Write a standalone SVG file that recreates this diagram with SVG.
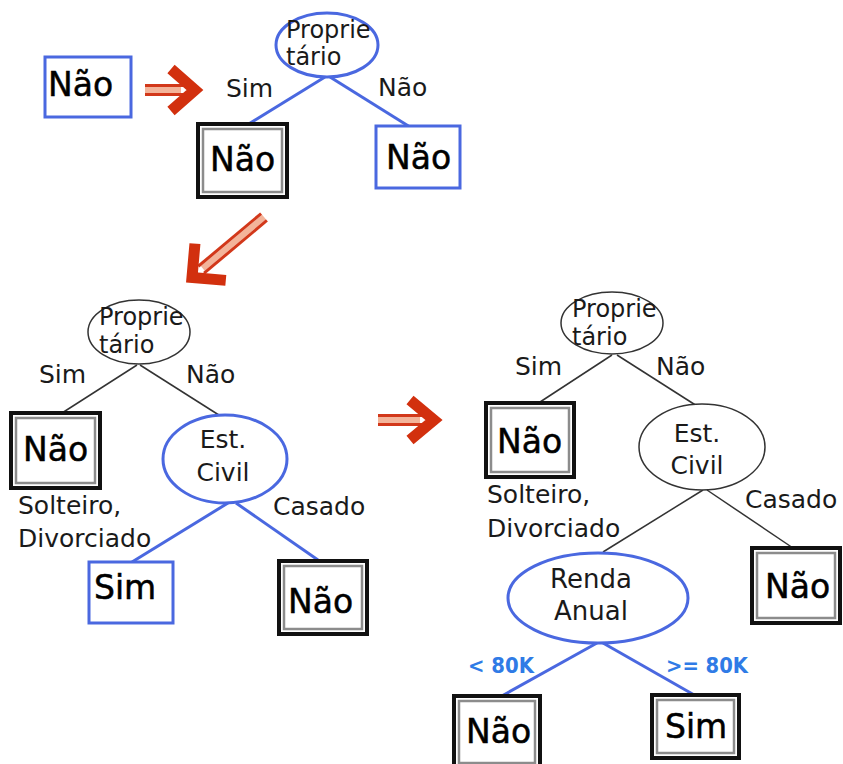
<svg xmlns="http://www.w3.org/2000/svg" width="843" height="764" viewBox="0 0 843 764">
  <style>
    text { font-family: "DejaVu Sans", "Liberation Sans", sans-serif; fill: #1a1a1a; }
    .lbl { font-size: 25px; }
    .node { font-size: 24px; }
    .big { font-size: 33px; fill: #000; stroke: #000; stroke-width: 0.5; }
    .cond { font-size: 22px; font-weight: bold; fill: #2f7be6; }
    .blue { fill: #fff; stroke: #4a68e0; stroke-width: 3; }
    .plain { fill: #fff; stroke: #333; stroke-width: 1.5; }
    .outer { fill: #fff; stroke: #111; stroke-width: 4; }
    .inner { fill: none; stroke: #8c8c8c; stroke-width: 2.5; }
    .eb { stroke: #4a68e0; stroke-width: 3; }
    .ek { stroke: #333; stroke-width: 1.5; }
    .shaft { stroke: #d2381a; stroke-width: 3; }
    .band { stroke: #f3b49a; stroke-width: 6; }
    .head { fill: none; stroke: #d2300e; stroke-width: 11; stroke-linejoin: miter; }
  </style>

  <!-- connectors -->
  <g id="connectors">
    <line class="eb" x1="325" y1="77" x2="247" y2="125"/>
    <line class="eb" x1="330" y1="77" x2="410" y2="127"/>

    <line class="ek" x1="137" y1="365" x2="62" y2="413"/>
    <line class="ek" x1="140" y1="365" x2="222" y2="417"/>
    <line class="eb" x1="228" y1="503" x2="132" y2="562"/>
    <line class="eb" x1="236" y1="503" x2="318" y2="560"/>

    <line class="ek" x1="612" y1="355" x2="537" y2="404"/>
    <line class="ek" x1="617" y1="355" x2="697" y2="406"/>
    <line class="ek" x1="703" y1="490" x2="603" y2="552"/>
    <line class="ek" x1="707" y1="490" x2="793" y2="548"/>
    <line class="eb" x1="597" y1="643" x2="500" y2="697"/>
    <line class="eb" x1="603" y1="643" x2="696" y2="696"/>
  </g>

  <!-- step arrows -->
  <g id="arrow-1" transform="translate(145,90)">
    <line class="band" x1="0" y1="0" x2="36" y2="0"/>
    <line class="shaft" x1="0" y1="-4.5" x2="38" y2="-4.5"/>
    <line class="shaft" x1="0" y1="4.5" x2="38" y2="4.5"/>
    <polyline class="head" points="26,-21 50,0 26,21"/>
  </g>
  <g id="arrow-2" transform="translate(264,217) rotate(140)">
    <line class="band" x1="0" y1="0" x2="80" y2="0"/>
    <line class="shaft" x1="0" y1="-4.5" x2="82" y2="-4.5"/>
    <line class="shaft" x1="0" y1="4.5" x2="82" y2="4.5"/>
    <polyline class="head" points="70,-24 94,0 70,24"/>
  </g>
  <g id="arrow-3" transform="translate(378,420)">
    <line class="band" x1="0" y1="0" x2="42" y2="0"/>
    <line class="shaft" x1="0" y1="-4.5" x2="44" y2="-4.5"/>
    <line class="shaft" x1="0" y1="4.5" x2="44" y2="4.5"/>
    <polyline class="head" points="32,-20 56,0 32,20"/>
  </g>

  <!-- edge labels -->
  <g id="labels">
    <text class="lbl" x="226" y="97">Sim</text>
    <text class="lbl" x="378" y="96">Não</text>
    <text class="lbl" x="39" y="383">Sim</text>
    <text class="lbl" x="186" y="383">Não</text>
    <text class="lbl" x="18" y="514">Solteiro,</text>
    <text class="lbl" x="18" y="547">Divorciado</text>
    <text class="lbl" x="273" y="515">Casado</text>
    <text class="lbl" x="515" y="375">Sim</text>
    <text class="lbl" x="656" y="375">Não</text>
    <text class="lbl" x="487" y="503">Solteiro,</text>
    <text class="lbl" x="487" y="537">Divorciado</text>
    <text class="lbl" x="745" y="508">Casado</text>
    <text class="cond" x="468" y="673" textLength="66" lengthAdjust="spacingAndGlyphs">&lt; 80K</text>
    <text class="cond" x="666" y="673" textLength="82" lengthAdjust="spacingAndGlyphs">&gt;= 80K</text>
  </g>

  <!-- stage 1 -->
  <g id="n-start">
    <rect class="blue" x="45" y="57" width="86" height="60"/>
    <text class="big" x="48" y="96">Não</text>
  </g>
  <g id="n1-root">
    <ellipse class="blue" cx="327" cy="45" rx="51" ry="32"/>
    <text class="node" x="286" y="38">Proprie</text>
    <text class="node" x="286" y="65">tário</text>
  </g>
  <g id="n1-sim">
    <rect class="outer" x="198" y="124" width="89" height="73"/>
    <rect class="inner" x="203" y="129" width="79" height="63"/>
    <text class="big" x="210" y="171">Não</text>
  </g>
  <g id="n1-nao">
    <rect class="blue" x="376" y="126" width="84" height="62"/>
    <text class="big" x="386" y="169">Não</text>
  </g>

  <!-- stage 2 -->
  <g id="n2-root">
    <ellipse class="plain" cx="139" cy="332" rx="51" ry="32"/>
    <text class="node" x="99" y="325">Proprie</text>
    <text class="node" x="99" y="353">tário</text>
  </g>
  <g id="n2-sim">
    <rect class="outer" x="11" y="413" width="89" height="75"/>
    <rect class="inner" x="16" y="418" width="79" height="65"/>
    <text class="big" x="23" y="461">Não</text>
  </g>
  <g id="n2-civil">
    <ellipse class="blue" cx="225" cy="459" rx="62" ry="44"/>
    <text class="node" x="223" y="448" text-anchor="middle" style="font-size:25px">Est.</text>
    <text class="node" x="223" y="481" text-anchor="middle" style="font-size:25px">Civil</text>
  </g>
  <g id="n2-solteiro">
    <rect class="blue" x="89" y="562" width="84" height="61"/>
    <text class="big" x="94" y="599">Sim</text>
  </g>
  <g id="n2-casado">
    <rect class="outer" x="279" y="561" width="88" height="73"/>
    <rect class="inner" x="284" y="566" width="78" height="63"/>
    <text class="big" x="288" y="613">Não</text>
  </g>

  <!-- stage 3 -->
  <g id="n3-root">
    <ellipse class="plain" cx="612" cy="323" rx="51" ry="31"/>
    <text class="node" x="572" y="317">Proprie</text>
    <text class="node" x="572" y="345">tário</text>
  </g>
  <g id="n3-sim">
    <rect class="outer" x="486" y="403" width="88" height="74"/>
    <rect class="inner" x="491" y="408" width="78" height="64"/>
    <text class="big" x="497" y="453">Não</text>
  </g>
  <g id="n3-civil">
    <ellipse class="plain" cx="702" cy="447" rx="63" ry="43"/>
    <text class="node" x="697" y="442" text-anchor="middle" style="font-size:25px">Est.</text>
    <text class="node" x="697" y="474" text-anchor="middle" style="font-size:25px">Civil</text>
  </g>
  <g id="n3-casado">
    <rect class="outer" x="752" y="548" width="88" height="75"/>
    <rect class="inner" x="757" y="553" width="78" height="65"/>
    <text class="big" x="765" y="598">Não</text>
  </g>
  <g id="n3-renda">
    <ellipse class="blue" cx="598" cy="598" rx="90" ry="45"/>
    <text class="node" x="591" y="588" text-anchor="middle" style="font-size:26px">Renda</text>
    <text class="node" x="591" y="620" text-anchor="middle" style="font-size:26px">Anual</text>
  </g>
  <g id="n3-baixa">
    <rect class="outer" x="454" y="696" width="86" height="72"/>
    <rect class="inner" x="459" y="701" width="76" height="62"/>
    <text class="big" x="466" y="743">Não</text>
  </g>
  <g id="n3-alta">
    <rect class="outer" x="652" y="695" width="87" height="63"/>
    <rect class="inner" x="657" y="700" width="77" height="53"/>
    <text class="big" x="665" y="738">Sim</text>
  </g>
</svg>
